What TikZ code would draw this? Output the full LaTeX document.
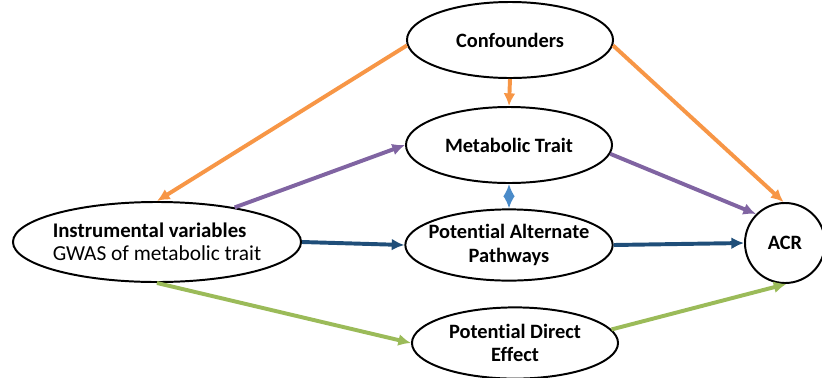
\documentclass[tikz,border=0pt]{standalone}
\usepackage{fontspec}
\setmainfont{Carlito}[Ligatures=NoCommon]
\usepackage{tikz}
\usetikzlibrary{
  shapes.geometric,%
  arrows.meta
}
\definecolor{conforange}{HTML}{F79646}
\definecolor{traitpurple}{HTML}{8064A2}
\definecolor{pathblue}{HTML}{1F4E79}
\definecolor{linkblue}{HTML}{4A8BC9}
\definecolor{directgreen}{HTML}{9BBB59}
\tikzset{>={Latex[length=9pt, width=8.5pt]}}
\tikzset{font=\fontsize{14.5}{16}\selectfont}
\tikzset{oval/.style={ellipse, draw=black, line width=1.4pt, fill=white,
    inner sep=0pt, align=center, font=\fontsize{14.5}{16.5}\selectfont\bfseries}}
\tikzset{link/.style={->, line width=2.8pt}}

\begin{document}
\begin{tikzpicture}[x=0.025cm, y=-0.025cm]
        \useasboundingbox (0,0) rectangle (822,377);
        % the nodes
        \node[oval, minimum width=5.15cm, minimum height=1.9cm] (conf) at (510,40) {Confounders};
        \node[oval, minimum width=5.15cm, minimum height=1.9cm] (trait) at (509,145) {Metabolic Trait};
        \node[oval, inner xsep=-5pt, minimum width=5.1cm, minimum height=1.78cm] (alt) at (509,245)
          {Potential Alternate\\Pathways};
        \node[oval, inner xsep=-2pt, minimum width=5.15cm, minimum height=1.78cm] (direct) at (515,343)
          {Potential Direct\\Effect};
        \node[oval, align=left, inner xsep=-6pt, minimum width=7.2cm, minimum height=2cm] (iv) at (157,242)
          {\fontsize{14.8}{16.5}\selectfont Instrumental variables\\
           \fontsize{15.2}{17}\selectfont\mdseries GWAS of metabolic trait};
        \node[oval, circle, minimum size=2cm] (acr) at (785,243) {ACR};
        % the arrows
        \draw[link, conforange] (conf.183) -- (iv.north);
        \draw[link, conforange] (conf.-3) -- (acr.92);
        \draw[link, conforange] (conf.south) -- (trait.north);
        \draw[link, traitpurple] (iv.24) -- (trait.west);
        \draw[link, traitpurple] (trait.-5) -- (acr.135);
        \draw[link, pathblue] (iv.east) -- (alt.west);
        \draw[link, pathblue] (alt.east) -- (acr.west);
        \draw[<->, line width=2.8pt, linkblue] (trait.south) -- (alt.north);
        \draw[link, directgreen] (iv.south) -- (direct.west);
        \draw[link, directgreen] (direct.8) -- (acr.-88);
      \end{tikzpicture}
\end{document}
